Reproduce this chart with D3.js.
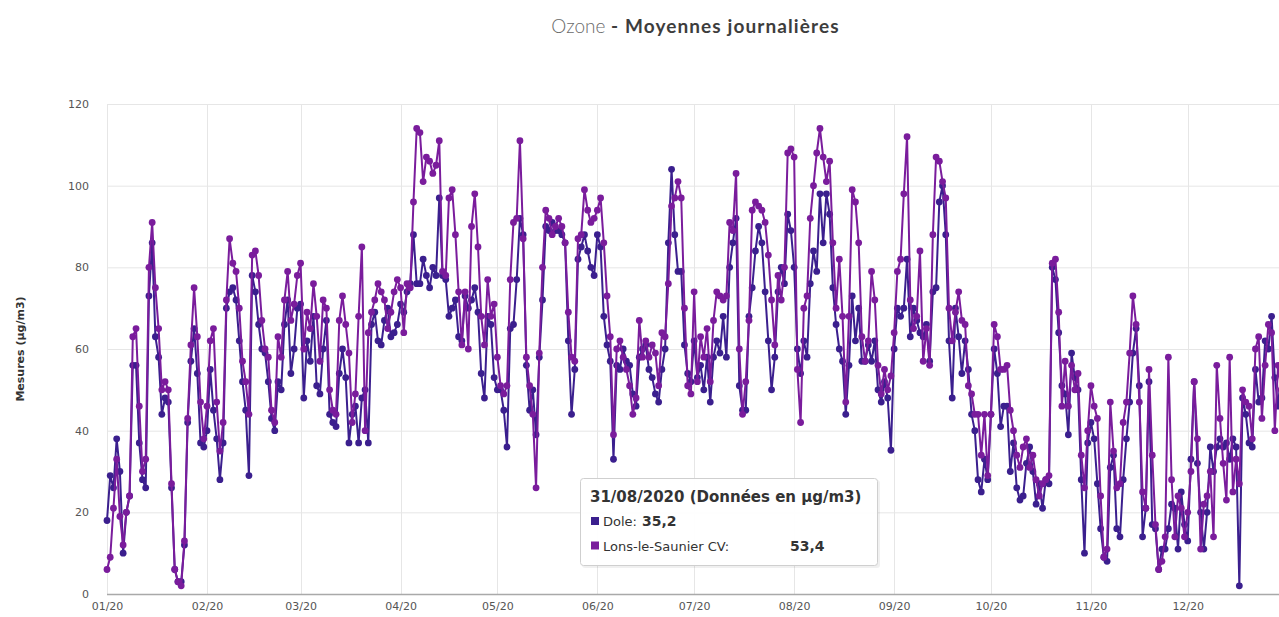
<!DOCTYPE html>
<html><head><meta charset="utf-8">
<script src="https://cdn.jsdelivr.net/npm/d3@7"></script>
<style>
html,body{margin:0;padding:0;background:#fff;overflow:hidden}
svg{display:block;font-family:"DejaVu Sans",Verdana,sans-serif}
</style></head><body>
<svg id="c" width="1279" height="617"></svg>
<script>
const seriesNames = ["Dole", "Lons-le-Saunier CV"];
const startDate = "2020-01-01";
const yTicks = [0, 20, 40, 60, 80, 100, 120];
const dole = [
18,29,26,38,30,10,20,24,56,56,
37,28,26,73,86,63,58,44,48,47,
26,6,3,3,12,42,57,65,54,37,
36,40,55,45,38,28,37,70,74,75,
72,62,52,45,29,78,74,66,60,59,
52,43,40,52,50,66,72,54,60,70,
71,48,62,57,68,51,49,60,67,44,
42,41,54,60,53,37,44,46,37,48,
50,37,66,69,62,61,67,70,63,64,
66,71,69,74,76,88,76,76,82,78,
75,80,78,97,78,77,68,70,72,63,
62,73,70,72,75,69,54,48,68,66,
53,50,50,45,36,65,66,77,92,88,
56,45,50,39,58,72,90,89,91,89,
89,88,86,62,44,55,82,85,88,84,
80,78,88,85,68,61,57,33,56,55,
60,57,56,49,46,58,60,61,55,53,
49,47,55,60,86,104,88,79,79,61,
54,52,62,53,56,50,58,47,58,62,
59,68,58,80,86,92,51,45,45,68,
75,84,90,86,74,62,50,58,74,80,
76,93,89,80,60,54,62,58,76,84,
79,98,86,98,93,75,66,60,57,44,
56,73,62,70,57,57,61,57,62,50,
47,52,48,35.2,60,70,68,70,82,63,
70,67,64,63,66,57,74,75,96,100,
88,62,48,70,63,54,62,55,44,40,
28,25,33,28,44,60,54,41,46,46,
30,37,26,23,24,32,36,30,22,27,
21,28,27,80,77,64,51,49,39,59,
53,50,28,10,37,42,38,27,16,9,
8,31,34,16,14,28,38,47,59,65,
51,14,21,52,17,16,6,11,11,16,
22,21,11,25,17,13,33,52,32,20,
11,20,36,30,36,38,36,37,33,38,
36,2,48,44,37,36,55,47,48,62,
60,68,53,46,55,58
];
const lons = [
6,9,21,33,19,12,20,24,63,65,
46,30,33,80,91,75,65,50,52,50,
27,6,3,2,13,43,61,75,63,47,
38,46,62,65,47,35,42,72,87,81,
79,70,57,52,44,83,84,78,67,60,
58,45,42,63,58,72,79,67,71,78,
81,60,69,65,76,68,57,72,70,50,
45,44,67,73,66,59,42,49,68,85,
40,64,69,72,76,74,72,65,69,74,
77,75,64,76,75,96,114,113,101,107,
106,103,105,111,79,78,97,99,88,74,
61,74,60,90,98,85,68,61,77,68,
71,58,51,49,51,77,91,92,111,87,
58,51,44,26,59,80,94,92,88,90,
92,90,86,69,58,57,87,88,99,94,
91,92,94,97,86,73,63,39,60,62,
58,55,51,44,48,67,58,62,58,61,
59,51,64,63,76,95,97,101,97,70,
51,49,74,52,63,58,65,52,67,74,
73,72,73,91,89,103,60,44,52,67,
94,96,95,94,91,83,72,61,78,72,
80,108,109,107,55,42,70,73,92,100,
108,114,107,101,106,86,70,82,68,47,
68,99,96,86,63,57,62,79,72,56,
49,55,50,53.4,64,79,82,98,112,72,
65,68,84,57,65,56,88,107,106,101,
97,70,62,69,74,67,66,51,49,44,
44,34,44,29,44,66,63,55,55,56,
45,40,34,31,36,38,31,34,28,24,
27,28,29,81,82,69,46,57,46,56,
50,54,34,26,40,51,46,43,24,9,
11,47,35,26,27,42,47,59,73,66,
47,25,21,55,34,17,6,8,14,58,
28,14,24,21,14,20,30,52,38,11,
22,24,30,14,56,43,32,23,58,25,
33,27,50,47,46,38,60,63,43,56,
66,64,40,56,50,62
];
const tooltipIndex = 243;
const colors = ["#3b1f8e", "#7a1c9c"];
const uiFont = "'DejaVu Sans',Verdana,sans-serif";

const svg = d3.select("#c");
svg.append("rect").attr("width",1279).attr("height",617).attr("fill","#fff");

const t0 = d3.utcParse("%Y-%m-%d")(startDate);
const dates = dole.map((_, i) => d3.utcDay.offset(t0, i));
const x = d3.scaleUtc().domain([t0, d3.utcDay.offset(t0, 365)]).range([107, 1284.5]);
const y = d3.scaleLinear().domain([0, 120]).range([594, 104]);

// title
const title = svg.append("text").attr("x", 695.5).attr("y", 33).attr("text-anchor","middle")
  .style("font-family","Lato, 'Open Sans', sans-serif").style("font-size","19px");
title.append("tspan").text("Ozone").attr("fill","#6a6a6a").style("font-weight","300");
title.append("tspan").text(" - Moyennes journalières").attr("fill","#3d3d3d").style("font-weight","700")
  .style("letter-spacing","1.1px");

// grid
const months = x.ticks(d3.utcMonth.every(1)).filter(d => d < d3.utcDay.offset(t0, 366));
svg.append("g").selectAll("line").data(yTicks).join("line")
  .attr("x1",107).attr("x2",1279).attr("y1",d=>y(d)+0.5).attr("y2",d=>y(d)+0.5)
  .attr("stroke","#e6e6e6");
svg.append("g").selectAll("line").data(months).join("line")
  .attr("x1",d=>Math.round(x(d))+0.5).attr("x2",d=>Math.round(x(d))+0.5).attr("y1",104).attr("y2",594)
  .attr("stroke","#e6e6e6");

// axes
const xAxis = d3.axisBottom(x).tickValues(months).tickFormat(d3.utcFormat("%m/%y")).tickSize(0).tickPadding(8);
const gx = svg.append("g").attr("transform","translate(0,594.5)").call(xAxis);
gx.select(".domain").attr("d","M107,0H1279").attr("stroke","#a9a9a9").attr("stroke-width",1.5);
gx.selectAll("text").attr("fill","#555").style("font-size","11px").style("font-family",uiFont);

const yAxis = d3.axisLeft(y).tickValues(yTicks).tickSize(0).tickPadding(0);
const gy = svg.append("g").attr("transform","translate(89,0)").call(yAxis);
gy.select(".domain").remove();
gy.selectAll("text").attr("fill","#555").style("font-size","11px").style("font-family",uiFont);

svg.append("text").attr("transform","translate(24,349) rotate(-90)").attr("text-anchor","middle")
  .attr("fill","#333").style("font-size","11px").style("font-family",uiFont).style("font-weight","bold")
  .text("Mesures (µg/m3)");

// series
const plot = svg.append("g");
[dole, lons].forEach((vals, si) => {
  const pts = vals.map((v, i) => [dates[i], v]);
  const line = d3.line().x(d => x(d[0])).y(d => y(d[1]));
  plot.append("path").datum(pts).attr("d", line).attr("fill","none")
    .attr("stroke", colors[si]).attr("stroke-width", 2).attr("stroke-linejoin","round");
  plot.append("g").selectAll("circle").data(pts).join("circle")
    .attr("cx", d => x(d[0])).attr("cy", d => y(d[1])).attr("r", 3.4).attr("fill", colors[si]);
});

// tooltip
const fmt = v => d3.format(".1f")(v).replace(".", ",");
const tt = svg.append("g").attr("transform","translate(580,478)");
tt.append("rect").attr("x",2).attr("y",2).attr("width",298).attr("height",88).attr("rx",3)
  .attr("fill","rgba(0,0,0,0.06)");
tt.append("rect").attr("x",0.5).attr("y",0.5).attr("width",297).attr("height",87).attr("rx",3)
  .attr("fill","rgba(255,255,255,0.96)").attr("stroke","#cfcfcf");
tt.append("text").attr("x",10).attr("y",24).attr("fill","#333").style("font-family",uiFont)
  .style("font-size","15px").style("font-weight","bold")
  .text(d3.utcFormat("%d/%m/%Y")(dates[tooltipIndex]) + " (Données en µg/m3)");
const valueX = [62, 210];
[dole, lons].forEach((vals, si) => {
  const yy = 48 + si * 24.5;
  tt.append("rect").attr("x",11).attr("y",yy-9).attr("width",8).attr("height",8).attr("fill",colors[si]);
  tt.append("text").attr("x",23).attr("y",yy).attr("fill","#333").style("font-family",uiFont)
    .style("font-size","13px").text(seriesNames[si] + ":");
  tt.append("text").attr("x",valueX[si]).attr("y",yy).attr("fill","#333").style("font-family",uiFont)
    .style("font-size","14px").style("font-weight","bold").text(fmt(vals[tooltipIndex]));
});
</script>
</body></html>
